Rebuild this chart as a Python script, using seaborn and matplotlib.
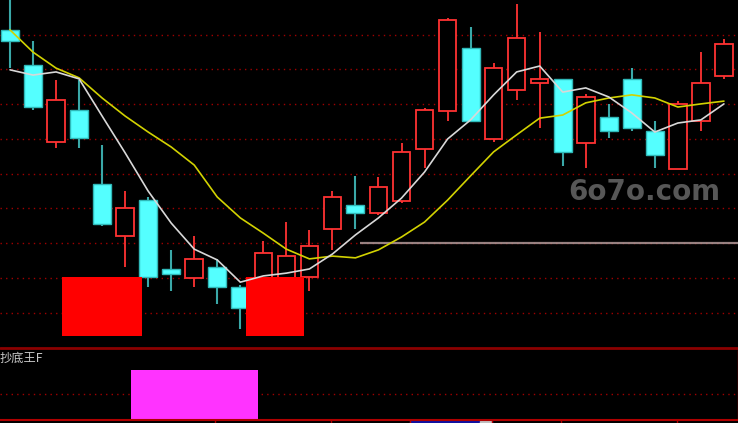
import numpy as np
import pandas as pd
import matplotlib
matplotlib.use("Agg")
import matplotlib.pyplot as plt
import seaborn as sns

# ---------------- data (price units) ----------------
opens  = [9.14, 8.13, 5.91, 6.83, 4.71, 3.21, 4.24, 2.26, 2.00, 2.32, 1.74, 1.65,
          1.80, 2.03, 3.41, 4.10, 3.87, 4.22, 5.71, 6.81, 8.62, 6.00, 7.41, 7.61,
          7.73, 5.88, 6.63, 7.73, 6.23, 5.14, 6.52, 7.81]
highs  = [10.10, 8.82, 7.70, 7.70, 5.83, 4.50, 4.33, 2.81, 3.21, 2.55, 1.80, 3.06,
          3.61, 3.38, 4.50, 4.94, 4.91, 5.88, 6.89, 9.48, 9.22, 8.19, 9.88, 9.08,
          7.73, 7.29, 7.01, 8.04, 6.52, 7.09, 8.50, 8.88]
lows   = [8.04, 6.83, 5.74, 5.74, 3.50, 2.32, 1.74, 1.63, 1.74, 1.25, 0.53, 1.51,
          1.65, 1.63, 2.81, 3.41, 3.81, 4.16, 5.17, 6.52, 6.52, 5.91, 7.12, 6.32,
          5.22, 5.17, 6.03, 6.23, 5.17, 5.14, 6.23, 7.73]
closes = [8.82, 6.92, 7.12, 6.03, 3.55, 4.01, 2.03, 2.12, 2.55, 1.74, 1.14, 2.72,
          2.63, 2.92, 4.33, 3.87, 4.62, 5.63, 6.83, 9.42, 6.52, 8.04, 8.91, 7.73,
          5.63, 7.21, 6.23, 6.32, 5.54, 7.01, 7.61, 8.73]

ma_white  = [7.99, 7.84, 7.93, 7.73, 6.66, 5.60, 4.50, 3.58, 2.83, 2.52, 1.88, 2.06,
             2.14, 2.26, 2.69, 3.24, 3.73, 4.30, 5.05, 6.00, 6.55, 7.27, 7.93, 8.10,
             7.35, 7.47, 7.21, 6.75, 6.20, 6.46, 6.55, 7.01]
ma_yellow = [9.14, 8.50, 8.04, 7.76, 7.18, 6.66, 6.20, 5.77, 5.25, 4.33, 3.73, 3.29,
             2.83, 2.55, 2.63, 2.58, 2.81, 3.18, 3.61, 4.24, 4.94, 5.63, 6.12, 6.60,
             6.69, 7.04, 7.18, 7.27, 7.18, 6.92, 7.01, 7.09]

buy_box_idx  = [3, 4, 5, 11, 12]      # red signal blocks (upper panel)
buy_box_low, buy_box_high = 0.33, 2.03
signal_idx   = [6, 7, 8, 9, 10]       # magenta bars (lower panel)
signal_val   = 1.0

ref_level    = 3.01                   # faint horizontal line
ref_start    = 15.2
indicator_name = "抄底王F"
watermark    = "6o7o.com"
bottom_ticks = [215, 331, 410, 492, 561, 677]   # pixel ticks of bottom ruler

# ---------------- style ----------------
sns.set_theme(style="dark", rc={"axes.facecolor": "black", "figure.facecolor": "black"})
plt.rcParams["font.family"] = ["Noto Sans CJK SC", "DejaVu Sans"]

W, H = 738, 423
fig = plt.figure(figsize=(W / 100, H / 100), dpi=100, facecolor="black")
ax1 = fig.add_axes([0, 75 / H, 1, 348 / H])
ax2 = fig.add_axes([0, 3 / H, 1, 71 / H])

n = len(opens)
x = np.arange(n)
xmin, xmax = -10 / 23.03, (W - 10) / 23.03

RED = "#ff3232"
CYAN = "#54ffff"
CYAN_EDGE = "#2fb8b8"
GRID = "#a00000"

for ax in (ax1, ax2):
    ax.set_facecolor("black")
    ax.set_xlim(xmin, xmax)
    ax.set_xticks([])
    ax.set_yticks([])
    for s in ax.spines.values():
        s.set_visible(False)

ax1.set_ylim(10 - 348 / 34.75, 10)
ax2.set_ylim(0, 1.42)

# grid lines
for lvl in range(1, 10):
    ax1.axhline(lvl, color=GRID, lw=1.0, ls=(0, (1, 3)), zorder=0)
ax2.axhline(0.52, color=GRID, lw=1.0, ls=(0, (1, 3)), zorder=0)

# candles
df = pd.DataFrame({"x": x, "o": opens, "h": highs, "l": lows, "c": closes})
up = df[df.c >= df.o]
dn = df[df.c < df.o]
ax1.vlines(up.x, up.l, up.h, color=RED, lw=1.3, zorder=2)
ax1.vlines(dn.x, dn.l, dn.h, color="#3aa8a8", lw=1.5, zorder=2)
ax1.bar(up.x, up.c - up.o, bottom=up.o, width=0.76, facecolor="black",
        edgecolor=RED, linewidth=1.3, zorder=3)
ax1.bar(dn.x, dn.o - dn.c, bottom=dn.c, width=0.78, facecolor=CYAN,
        edgecolor=CYAN_EDGE, linewidth=1.0, zorder=3)

# red signal blocks
ax1.bar(buy_box_idx, buy_box_high - buy_box_low, bottom=buy_box_low, width=1.5,
        color="#ff0000", linewidth=0, zorder=4)

# faint reference line
ax1.hlines(ref_level, ref_start, xmax, color="#a89090", lw=1.6, zorder=1, alpha=0.9)

# moving averages
sns.lineplot(x=x, y=ma_yellow, ax=ax1, color="#d2d200", lw=1.2, zorder=5)
sns.lineplot(x=x, y=ma_white, ax=ax1, color="#d8d8d8", lw=1.2, zorder=6)

# watermark
ax1.text((568 - 10) / 23.03, 10 - 200 / 34.75, watermark, color="#575757",
         fontsize=20, fontweight="bold", family="DejaVu Sans",
         ha="left", va="baseline", zorder=1)

# lower panel signal
ax2.bar(signal_idx, [signal_val] * len(signal_idx), width=1.5, color="#ff33ff",
        linewidth=0, zorder=3)
ax2.text(0.0, 0.87, indicator_name, transform=ax2.transAxes, color="#c8c8c8",
         fontsize=8.8, ha="left", va="center")

# panel borders
fig.add_artist(plt.Line2D([0, 1], [1 - 348 / H, 1 - 348 / H], color="#8b0000", lw=2))
fig.add_artist(plt.Line2D([0, 1], [3 / H, 3 / H], color="#b00000", lw=1.5))
fig.add_artist(plt.Line2D([737.5 / W, 737.5 / W], [3 / H, 1 - 350 / H], color="#b00000", lw=1))
for t in bottom_ticks:
    fig.add_artist(plt.Line2D([t / W, t / W], [0, 3 / H], color="#b00000", lw=1))
fig.add_artist(plt.Rectangle((410 / W, 0), 82 / W, 2.5 / H, color="#1010a0"))
fig.add_artist(plt.Rectangle((480 / W, 0), 11 / W, 2.5 / H, color="#c0c0c0"))

fig.savefig("out.png", dpi=100, facecolor="black")
